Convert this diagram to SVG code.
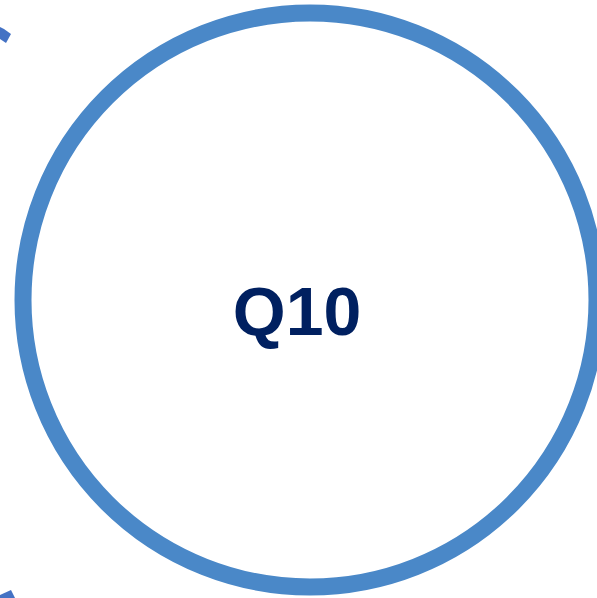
<svg xmlns="http://www.w3.org/2000/svg" width="597" height="598" viewBox="0 0 597 598">
<style>
.ring{fill:#ffffff;stroke:#4a88c8;stroke-width:17}
.lbl{font-family:"Liberation Sans",Arial,sans-serif;font-weight:bold;font-size:68px;fill:#002060;text-anchor:middle}
.mark{fill:#4472c4}
</style>
<rect width="597" height="598" fill="#ffffff"/>
<g id="marks">
<polygon class="mark" points="0,27 4,29 11,34 6,43 0,39"/>
<polygon class="mark" points="0,595 11,590 15,598 0,598"/>
</g>
<g id="node-q10">
<circle class="ring" cx="310" cy="300" r="287"/>
<text class="lbl" x="297" y="335">Q10</text>
</g>
</svg>
